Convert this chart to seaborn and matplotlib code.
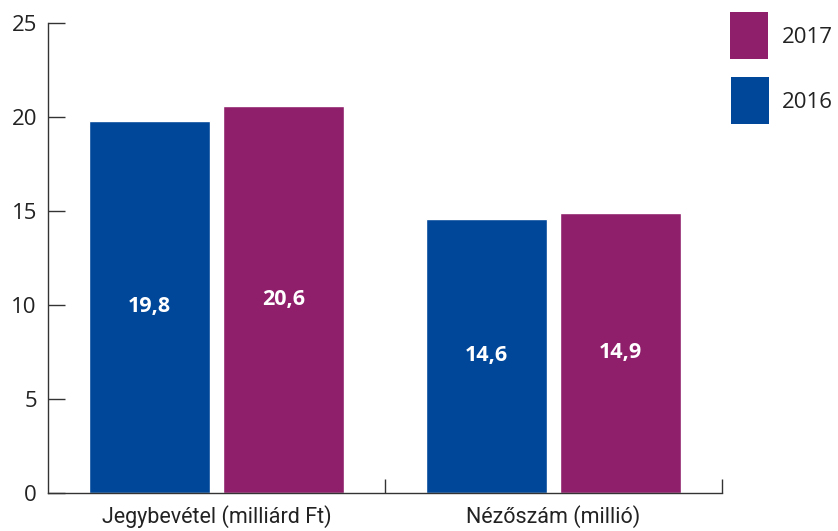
import matplotlib
matplotlib.use("Agg")
import matplotlib.pyplot as plt
import seaborn as sns
import pandas as pd
from matplotlib.patches import Rectangle

categories = ["Jegybevétel (milliárd Ft)", "Nézőszám (millió)"]
years = ["2016", "2017"]
values_2016 = [19.8, 14.6]
values_2017 = [20.6, 14.9]
label_2016 = ["19,8", "14,6"]
label_2017 = ["20,6", "14,9"]
yticks = [0, 5, 10, 15, 20, 25]

colors = {"2016": "#00479A", "2017": "#8F1F6A"}

df = pd.DataFrame({
    "category": categories * 2,
    "year": ["2016"] * 2 + ["2017"] * 2,
    "value": values_2016 + values_2017,
    "label": label_2016 + label_2017,
})

sns.set_style("white")
plt.rcParams["font.family"] = ["Open Sans", "DejaVu Sans"]

W, H = 838, 531
fig = plt.figure(figsize=(W / 100, H / 100), dpi=100)
ax = fig.add_axes([48 / W, (H - 493) / H, (722 - 48) / W, (493 - 23) / H])

sns.barplot(data=df, x="category", y="value", hue="year", hue_order=years,
            palette=colors, width=0.795, gap=0.097, ax=ax, legend=False,
            saturation=1, errorbar=None)

for cont, yr in zip(ax.containers, years):
    labs = df[df.year == yr]["label"].tolist()
    for bar, lab in zip(cont, labs):
        ax.text(bar.get_x() + bar.get_width() / 2, bar.get_height() / 2, lab,
                ha="center", va="center", color="white", fontsize=15.5,
                fontweight="bold")

ax.set_xlim(-0.5, 1.5)
ax.set_ylim(0, 25)
ax.set_yticks(yticks)
ax.set_yticklabels([str(t) for t in yticks], fontsize=16, color="#222222")
ax.set_xlabel("")
ax.set_ylabel("")
ax.tick_params(axis="y", length=12, width=1, color="#333333", direction="in", pad=8, left=True)
ax.set_xticks([0, 1])
ax.set_xticklabels(categories, fontsize=15.5, color="#222222",
                   family=["Roboto", "Open Sans", "DejaVu Sans"])
ax.tick_params(axis="x", which="major", length=0, pad=9)
ax.set_xticks([0.5, 1.5], minor=True)
ax.tick_params(axis="x", which="minor", length=10, width=1, color="#333333", direction="in", bottom=True)

for s in ["top", "right"]:
    ax.spines[s].set_visible(False)
for s in ["left", "bottom"]:
    ax.spines[s].set_color("#333333")
    ax.spines[s].set_linewidth(1)

# legend (2017 on top, 2016 below)
legend_items = [("2017", 730, 12), ("2016", 731, 77)]
for yr, x0, y0 in legend_items:
    fig.add_artist(Rectangle((x0 / W, 1 - (y0 + 47) / H), 38 / W, 47 / H,
                             transform=fig.transFigure, facecolor=colors[yr],
                             edgecolor="none"))
    fig.text(782 / W, 1 - (y0 + 25) / H, yr, ha="left", va="center",
             fontsize=16, color="#222222")

fig.savefig("out.png", dpi=100)
